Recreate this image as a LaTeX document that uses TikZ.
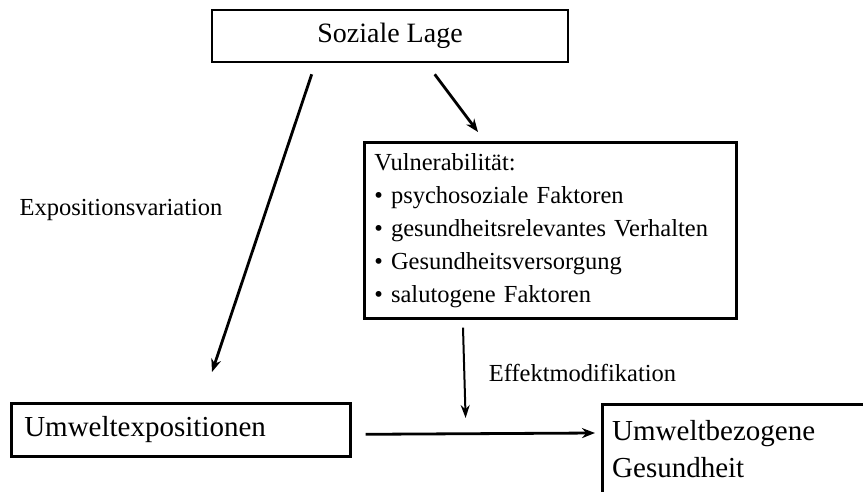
\documentclass[tikz,border=0pt]{standalone}
\usepackage{fontspec}
\setmainfont{Liberation Serif}
\usetikzlibrary{arrows.meta,calc}
\begin{document}
\begin{tikzpicture}[x=1pt,y=1pt,
  box/.style={draw, line width=2.6pt, inner sep=0pt},
  arr/.style={line width=2.8pt, -{Stealth[length=13pt,width=10pt]}},
  thinarr/.style={line width=2pt, -{Stealth[length=13pt,width=9pt]}},
  lbl/.style={font=\fontsize{24.5}{30}\selectfont, inner sep=0pt}]
\useasboundingbox (0,0) rectangle (863,491);
\node[box, minimum width=356pt, minimum height=52pt, font=\fontsize{28}{34}\selectfont] (soz) at (390,455) {Soziale Lage};
\node[box, anchor=north west, minimum height=176pt, text width=352pt, inner xsep=10pt, align=left, font=\fontsize{24.5}{33}\selectfont] (vul) at (363,350)
  {Vulnerabilität:\\ • psychosoziale Faktoren\\ • gesundheitsrelevantes Verhalten\\ • Gesundheitsversorgung\\ • salutogene Faktoren};
\node[box, anchor=north west, minimum height=53pt, text width=313pt, inner xsep=13pt, align=left, font=\fontsize{29}{35}\selectfont] (umw) at (10,89) {Umweltexpositionen};
\node[box, anchor=north west, minimum width=320pt, minimum height=120pt] (ges) at (601,88) {};
\node[anchor=north west, align=left, inner sep=0pt, font=\fontsize{29}{37}\selectfont] (gestxt) at ($(ges.north west)+(11,-17)$) {Umweltbezogene\\Gesundheit};
\node[lbl] (expo) at (121,281) {Expositionsvariation};
\node[lbl] (eff) at (582.5,118) {Effektmodifikation};
\draw[arr] ($(soz.south west)+(101,-11)$) -- ($(umw.north west)+(202,30)$);
\draw[arr] ($(soz.south west)+(224,-11)$) -- ($(vul.north west)+(115,9)$);
\draw[thinarr] ($(vul.south west)+(100,-8)$) -- ($(umw.north east)+(114,-16)$);
\draw[arr] ($(umw.east)+(14,-4.5)$) -- ($(ges.north west)+(-6,-30)$);
\end{tikzpicture}
\end{document}
